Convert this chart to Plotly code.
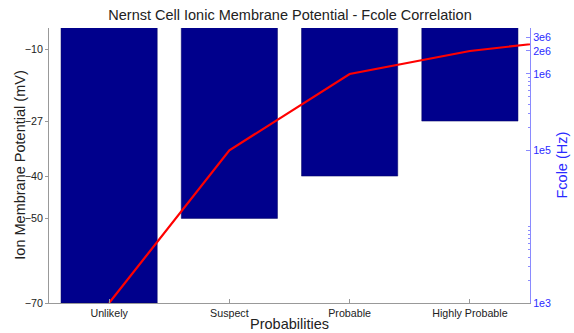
import math
import plotly.graph_objects as go

# Category labels and the two measured series
categories = ["Unlikely", "Suspect", "Probable", "Highly Probable"]
membrane_mv = [-70, -50, -40, -27]
# Fcole values; the last point lies past the final category and is clipped at the frame
fcole_hz = [1e3, 1e5, 1e6, 2e6, 3e6]

left_ticks = [-70, -50, -40, -27, -10]
right_ticks = [1e3, 1e5, 1e6, 2e6, 3e6]
right_tick_text = ["1e3", "1e5", "1e6", "2e6", "3e6"]
right_minor = [2e3, 3e3, 4e3, 5e3, 6e3, 7e3, 8e3, 9e3, 1e4,
               2e5, 3e5, 4e5, 5e5, 6e5, 7e5, 8e5, 9e5]

font = "Liberation Sans, Arial, sans-serif"
text_col = "#222222"
blue_txt = "#2a2aff"
blue_line = "#8a8aff"
x_pos = list(range(len(categories)))

fig = go.Figure()
fig.add_trace(go.Bar(
    x=x_pos, y=membrane_mv, base=0, width=0.8,
    marker=dict(color="#00008c", line=dict(color="#000060", width=0.5)),
    showlegend=False, hoverinfo="skip",
))
fig.add_trace(go.Scatter(
    x=list(range(len(fcole_hz))), y=fcole_hz, yaxis="y2", mode="lines",
    line=dict(color="#ff0000", width=2.2), showlegend=False, hoverinfo="skip",
))

fig.update_layout(
    width=574, height=333,
    margin=dict(l=49, r=44, t=28, b=30, autoexpand=False),
    paper_bgcolor="white", plot_bgcolor="white",
    font=dict(family=font, size=10.7, color=text_col),
    title=dict(text="Nernst Cell Ionic Membrane Potential - Fcole Correlation",
               x=290 / 574, xanchor="center", xref="container",
               y=1 - 15 / 333, yanchor="middle", yref="container",
               font=dict(size=14.5, color=text_col)),
    xaxis=dict(
        range=[-0.5, 3.5], tickmode="array", tickvals=x_pos, ticktext=categories,
        ticks="inside", ticklen=4, tickcolor="#999", showline=True, linecolor="#999",
        linewidth=1, showgrid=False, zeroline=False, automargin=False,
        tickfont=dict(size=10.7, color=text_col),
    ),
    yaxis=dict(
        range=[-70, -5], tickmode="array", tickvals=left_ticks,
        ticks="outside", ticklen=3, tickcolor="#999", showline=True, linecolor="#999",
        linewidth=1, showgrid=False, zeroline=False, automargin=False,
        tickfont=dict(size=10.7, color=text_col),
    ),
    yaxis2=dict(
        type="log", overlaying="y", side="right",
        range=[3, math.log10(4e6)], tickmode="array", tickvals=right_ticks,
        ticktext=right_tick_text, ticks="inside", ticklen=4, tickcolor=blue_line,
        minor=dict(tickmode="array", tickvals=right_minor, ticks="inside",
                   ticklen=2, tickcolor=blue_line),
        showline=True, linecolor=blue_line, linewidth=1, showgrid=False,
        zeroline=False, automargin=False, tickfont=dict(size=10.7, color=blue_txt),
    ),
    annotations=[
        dict(text="Probabilities", xref="paper", yref="paper",
             x=0.501, y=-0.078, xanchor="center", yanchor="middle", showarrow=False,
             font=dict(size=14.5, color=text_col)),
        dict(text="Ion Membrane Potential (mV)", xref="paper", yref="paper",
             x=-0.062, y=0.5, xanchor="center", yanchor="middle", textangle=-90,
             showarrow=False, font=dict(size=14.5, color=text_col)),
        dict(text="Fcole (Hz)", xref="paper", yref="paper",
             x=1.0645, y=0.5, xanchor="center", yanchor="middle", textangle=-90,
             showarrow=False, font=dict(size=14.5, color=blue_txt)),
    ],
)

fig.write_html("out.html")
